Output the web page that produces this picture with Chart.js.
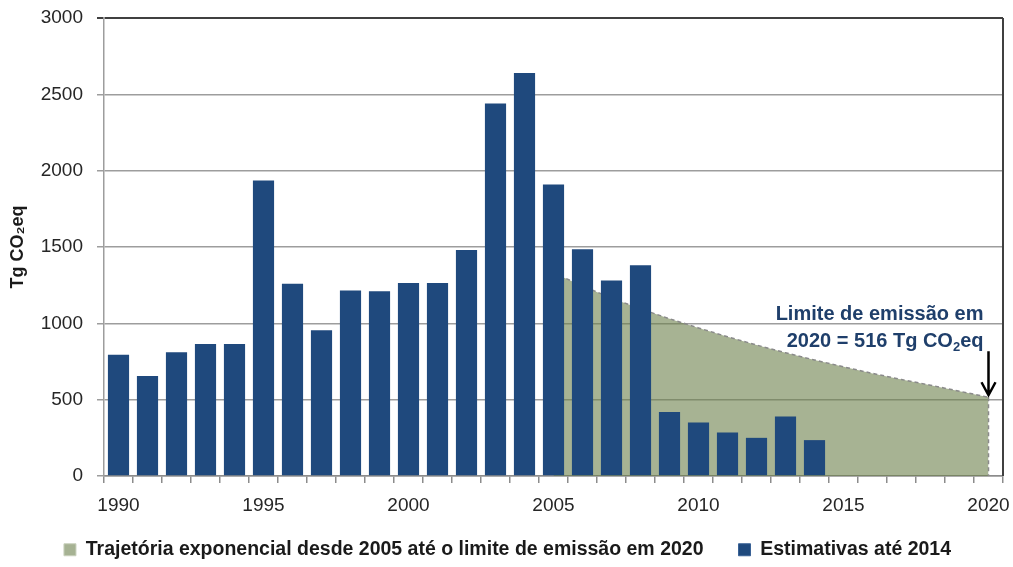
<!DOCTYPE html>
<html>
<head>
<meta charset="utf-8">
<script src="https://cdn.jsdelivr.net/npm/chart.js@4"></script>
<style>
  html, body { margin: 0; padding: 0; background: #fff; }
  #wrap { width: 1013px; height: 567px; }
</style>
</head>
<body>
<div id="wrap"><canvas id="chart"></canvas></div>
<script>
// anos do eixo x
const years = ['1990', '1991', '1992', '1993', '1994', '1995', '1996', '1997', '1998', '1999',
  '2000', '2001', '2002', '2003', '2004', '2005', '2006', '2007', '2008', '2009',
  '2010', '2011', '2012', '2013', '2014', '2015', '2016', '2017', '2018', '2019', '2020']

// estimativas anuais (Tg CO2eq), 1990-2014
const estimateYears = years.slice(0, 25)
const estimates = [795, 655, 810, 865, 865, 1935, 1260, 955, 1215, 1210,
  1265, 1265, 1480, 2440, 2640, 1910, 1485, 1280, 1380, 420,
  350, 285, 250, 390, 235]

// trajetória exponencial 2005-2020
const trajectoryYears = years.slice(15)
const trajectory = [1330, 1245, 1165, 1095, 1030, 970, 912, 858, 807, 760,
  715, 672, 632, 595, 555, 516]

const yTicks = [0, 500, 1000, 1500, 2000, 2500, 3000]
const xLabelYears = ['1990', '1995', '2000', '2005', '2010', '2015', '2020']

const FONT = "'Liberation Sans', Arial, sans-serif"
const navy = '#1f497d'
const textBlue = '#1f3f6b'

// bordas, linha vertical da área, seta e rótulo do limite
const extras = {
    id: 'extras',
    beforeInit(chart) {
        // legenda mais baixa, com itens bem espaçados
        const legend = chart.legend
        const fit = legend.fit
        legend.fit = function () {
            fit.call(this)
            this.height = 49
        }
        const draw = legend._draw
        legend._draw = function () {
            this.ctx.save()
            this.ctx.translate(6, -13)
            draw.call(this)
            this.ctx.restore()
        }
    },
    afterDatasetsDraw(chart) {
        const { ctx, chartArea } = chart
        const pts = chart.getDatasetMeta(0).data
        const last = pts[pts.length - 1]
        const x = last.x, y = last.y

        ctx.save()
        // borda direita
        ctx.strokeStyle = '#404040'
        ctx.lineWidth = 2
        ctx.beginPath()
        ctx.moveTo(chartArea.right, chartArea.top)
        ctx.lineTo(chartArea.right, chartArea.bottom)
        ctx.stroke()

        // lado direito da área, tracejado
        ctx.strokeStyle = '#8a8a8a'
        ctx.lineWidth = 1.5
        ctx.setLineDash([4, 3])
        ctx.beginPath()
        ctx.moveTo(x, y)
        ctx.lineTo(x, chartArea.bottom)
        ctx.stroke()
        ctx.setLineDash([])

        // seta
        ctx.strokeStyle = '#000'
        ctx.lineWidth = 2.5
        ctx.beginPath()
        ctx.moveTo(x, y - 46)
        ctx.lineTo(x, y - 2)
        ctx.moveTo(x - 7, y - 15)
        ctx.lineTo(x, y - 2)
        ctx.lineTo(x + 7, y - 15)
        ctx.stroke()

        // texto
        const right = x - 5
        ctx.fillStyle = textBlue
        ctx.textBaseline = 'middle'
        ctx.textAlign = 'right'
        ctx.font = 'bold 20px ' + FONT
        ctx.fillText('Limite de emissão em', right, y - 83)

        const limit = trajectory[trajectory.length - 1]
        const a = '2020 = ' + limit + ' Tg CO', b = '2', c = 'eq'
        ctx.textAlign = 'left'
        const wa = ctx.measureText(a).width
        const wc = ctx.measureText(c).width
        ctx.font = 'bold 13px ' + FONT
        const wb = ctx.measureText(b).width
        let cx = right - wa - wb - wc
        ctx.font = 'bold 20px ' + FONT
        ctx.fillText(a, cx, y - 56)
        cx += wa
        ctx.font = 'bold 13px ' + FONT
        ctx.fillText(b, cx, y - 50)
        cx += wb
        ctx.font = 'bold 20px ' + FONT
        ctx.fillText(c, cx, y - 56)
        ctx.restore()
    }
}

new Chart(document.getElementById('chart'), {
    type: 'bar',
    data: {
        labels: years,
        datasets: [
            {
                type: 'line',
                label: 'Trajetória exponencial desde 2005 até o limite de emissão em 2020',
                data: trajectoryYears.map((yr, i) => ({ x: yr, y: trajectory[i] })),
                fill: 'origin',
                backgroundColor: 'rgba(108, 128, 75, 0.6)',
                borderColor: '#8a8a8a',
                borderWidth: 1.5,
                borderDash: [4, 3],
                pointRadius: 0,
                tension: 0,
                order: 2,
            },
            {
                type: 'bar',
                label: 'Estimativas até 2014',
                data: estimateYears.map((yr, i) => ({ x: yr, y: estimates[i] })),
                backgroundColor: navy,
                borderWidth: 0,
                barPercentage: 0.73,
                categoryPercentage: 1,
                order: 1,
            },
        ],
    },
    options: {
        responsive: true,
        maintainAspectRatio: false,
        animation: false,
        layout: { padding: { left: 0, top: 18, right: 10, bottom: 0 } },
        plugins: {
            tooltip: { enabled: false },
            legend: {
                position: 'bottom',
                labels: {
                    font: { family: FONT, size: 19.5, weight: 'bold' },
                    color: '#1a1a1a',
                    boxWidth: 12,
                    boxHeight: 12,
                    padding: 35,
                    sort: (a, b) => a.datasetIndex - b.datasetIndex,
                    generateLabels(chart) {
                        const items = Chart.defaults.plugins.legend.labels.generateLabels(chart)
                        items.forEach(it => {
                            it.lineDash = []
                            it.lineWidth = 1
                            it.strokeStyle = it.datasetIndex === 0 ? '#c9d0bd' : '#3a6296'
                            if (it.datasetIndex === 0) it.fillStyle = '#a6b293'
                        })
                        return items
                    },
                },
            },
        },
        scales: {
            x: {
                type: 'category',
                offset: true,
                afterFit(scale) {
                    scale.height = 42
                    scale.paddingLeft = 0
                    scale.paddingRight = 0
                },
                grid: {
                    offset: true,
                    drawOnChartArea: false,
                    drawTicks: true,
                    tickLength: 7,
                    color: '#8c8c8c',
                    lineWidth: 1.5,
                },
                border: { color: '#8c8c8c', width: 1.5 },
                ticks: {
                    autoSkip: false,
                    maxRotation: 0,
                    padding: 11,
                    color: '#262626',
                    font: { family: FONT, size: 19 },
                    callback(value, index) {
                        const label = years[index]
                        return xLabelYears.includes(label) ? label : ''
                    },
                },
            },
            y: {
                min: yTicks[0],
                max: yTicks[yTicks.length - 1],
                afterFit(scale) {
                    scale.width = 104
                    scale.paddingTop = 10
                    scale.paddingBottom = 10
                },
                afterBuildTicks(scale) { scale.ticks = yTicks.map(v => ({ value: v })) },
                grid: {
                    color: ctx => ctx.tick && ctx.tick.value === 3000 ? '#404040' : '#9d9d9d',
                    lineWidth: ctx => ctx.tick && ctx.tick.value === 3000 ? 2 : 1.5,
                    tickLength: 7,
                },
                border: { color: '#9d9d9d', width: 1.5 },
                ticks: {
                    padding: 14,
                    color: '#262626',
                    font: { family: FONT, size: 19 },
                    callback: value => String(value),
                },
                title: {
                    display: true,
                    text: 'Tg CO₂eq',
                    color: '#1a1a1a',
                    font: { family: FONT, size: 18, weight: 'bold' },
                    padding: { top: 7, bottom: 0 },
                },
            },
        },
    },
    plugins: [extras],
})
</script>
</body>
</html>
